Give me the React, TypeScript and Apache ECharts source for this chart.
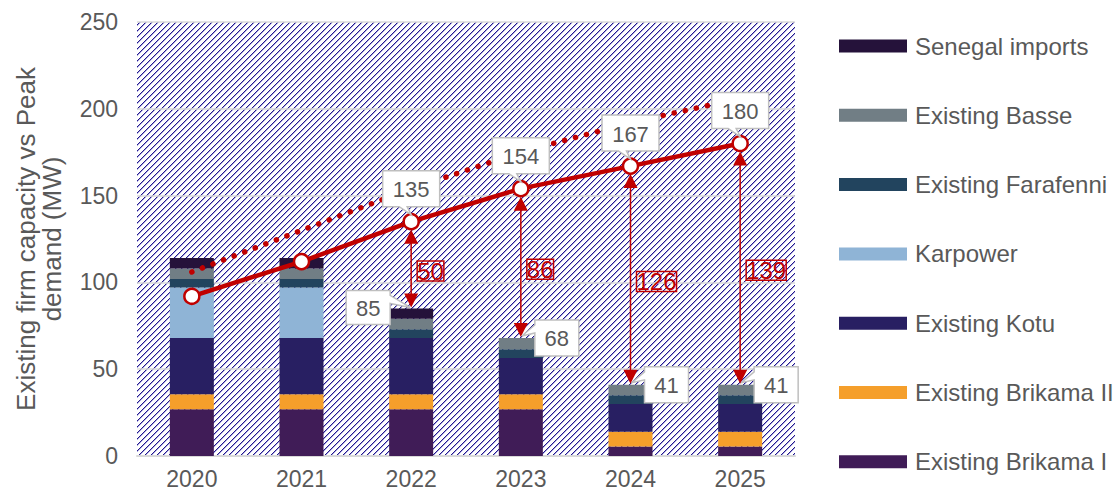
import React, { useEffect, useRef } from 'react';
import * as echarts from 'echarts';

const years = ['2020', '2021', '2022', '2023', '2024', '2025'];
const brikamaI = [27, 27, 27, 27, 5.5, 5.5];
const brikamaII = [8.5, 8.5, 8.5, 8.5, 8.5, 8.5];
const kotu = [32.5, 32.5, 32.5, 21, 16, 16];
const karpower = [29, 29, 0, 0, 0, 0];
const farafenni = [5, 5, 5, 5, 5, 5];
const basse = [6, 6, 6, 6.5, 6, 6];
const senegalImports = [6, 6, 6, 0, 0, 0];
const peakDemand = [92, 112, 135, 154, 167, 180];
const highDemand = [106, 130, 154, 175, 192, 206];
const annotatedYears = ['2022', '2023', '2024', '2025'];
const yTicks = [0, 50, 100, 150, 200, 250];

const FONT = 'Liberation Sans, Arial, sans-serif';
const GREY = '#595959';
const RED = '#c00000';

const barSeriesDefs = [
  { name: 'Existing Brikama I', data: brikamaI, color: '#401c57' },
  { name: 'Existing Brikama II', data: brikamaII, color: '#f59f2b' },
  { name: 'Existing Kotu', data: kotu, color: '#281f62' },
  { name: 'Karpower', data: karpower, color: '#8fb4d6' },
  { name: 'Existing Farafenni', data: farafenni, color: '#22445e' },
  { name: 'Existing Basse', data: basse, color: '#717e85' },
  { name: 'Senegal imports', data: senegalImports, color: '#25123a' },
];

function makeHatch(): string {
  const s = 6;
  const c = document.createElement('canvas');
  c.width = s;
  c.height = s;
  const ctx = c.getContext('2d')!;
  ctx.fillStyle = '#ffffff';
  ctx.fillRect(0, 0, s, s);
  for (let x = 0; x < s; x++) {
    ctx.fillStyle = '#22188c';
    ctx.fillRect(x, s - 1 - x, 1, 1);
    ctx.fillStyle = '#aaa6e0';
    ctx.fillRect(x, (s - x) % s, 1, 1);
  }
  return c.toDataURL();
}

export default function App() {
  const ref = useRef<HTMLDivElement>(null);

  useEffect(() => {
    document.body.style.margin = '0';
    const chart = echarts.init(ref.current!, null, { renderer: 'svg' });
    const totals = years.map((_, i) =>
      barSeriesDefs.reduce((acc, s) => acc + (s.data[i] || 0), 0)
    );
    const annotIdx = annotatedYears.map((y) => years.indexOf(y));
    const gapData = annotIdx.map((i) => [years[i], totals[i], peakDemand[i]]);
    const demandLabelData = annotIdx.map((i) => [years[i], peakDemand[i]]);
    const capLabelData = annotIdx.map((i) => [years[i], totals[i]]);

    const hatch = makeHatch();

    const series: any[] = barSeriesDefs.map((s) => ({
      name: s.name,
      type: 'bar',
      stack: 'cap',
      barWidth: 44,
      data: s.data,
      itemStyle: { color: s.color },
      z: 2,
    }));

    series.push({
      name: 'High demand',
      type: 'line',
      data: highDemand,
      symbol: 'none',
      z: 3,
      lineStyle: { color: RED, width: 5.5, type: [0.1, 11.2], cap: 'round' },
    });

    series.push({
      name: 'Gap',
      type: 'custom',
      z: 3,
      data: gapData,
      renderItem: (params: any, api: any) => {
        const xi = api.value(0);
        const tot = api.value(1);
        const dem = api.value(2);
        const pT = api.coord([xi, tot]);
        const pD = api.coord([xi, dem]);
        const x = pT[0];
        const yBot = pT[1] - 1;
        const yTop = pD[1] + 8;
        const head = 14;
        const hw = 7;
        const mid = (pT[1] + pD[1]) / 2 + 6;
        return {
          type: 'group',
          children: [
            {
              type: 'line',
              shape: { x1: x, y1: yTop + head - 2, x2: x, y2: yBot - head + 2 },
              style: { stroke: RED, lineWidth: 1.5 },
            },
            {
              type: 'polygon',
              shape: { points: [[x, yTop], [x - hw, yTop + head], [x + hw, yTop + head]] },
              style: { fill: RED },
            },
            {
              type: 'polygon',
              shape: { points: [[x, yBot], [x - hw, yBot - head], [x + hw, yBot - head]] },
              style: { fill: RED },
            },
            {
              type: 'text',
              x: x + 6,
              y: mid,
              style: {
                text: String(Math.round(dem - tot)),
                fill: RED,
                font: `24px ${FONT}`,
                align: 'left',
                verticalAlign: 'middle',
                borderColor: RED,
                borderWidth: 1.5,
                padding: [-1, 0, -1, 0],
                lineHeight: 22,
              },
            },
          ],
        };
      },
    });

    series.push({
      name: 'Peak demand',
      type: 'line',
      data: peakDemand,
      z: 4,
      symbol: 'circle',
      symbolSize: 15,
      lineStyle: { color: RED, width: 4.5 },
      itemStyle: { color: '#ffffff', borderColor: RED, borderWidth: 2.5 },
    });

    const calloutText = (cx: number, cy: number, v: number) => ({
      type: 'text',
      x: cx,
      y: cy,
      style: {
        text: String(Math.round(v)),
        fill: GREY,
        font: `22px ${FONT}`,
        align: 'center',
        verticalAlign: 'middle',
      },
    });
    const boxStyle = { fill: '#ffffff', stroke: '#bfbfbf', lineWidth: 1.5 };

    series.push({
      name: 'Demand labels',
      type: 'custom',
      z: 6,
      data: demandLabelData,
      renderItem: (params: any, api: any) => {
        const v = api.value(1);
        const [px, py] = api.coord([api.value(0), v]);
        const W = 57;
        const H = 36;
        const B = py - 15;
        const T = B - H;
        const L = px - W / 2;
        const R = px + W / 2;
        return {
          type: 'group',
          children: [
            {
              type: 'polygon',
              shape: { points: [[L, T], [R, T], [R, B], [px - 4, B], [px, py - 7], [px - 12, B], [L, B]] },
              style: boxStyle,
            },
            calloutText(px, (T + B) / 2 + 1, v),
          ],
        };
      },
    });

    series.push({
      name: 'Capacity labels',
      type: 'custom',
      z: 6,
      data: capLabelData,
      renderItem: (params: any, api: any) => {
        const v = api.value(1);
        const xi = api.value(0);
        const [px, py] = api.coord([xi, v]);
        const W = 44;
        if (params.dataIndex === 0) {
          const H = 34;
          const R = px - 21;
          const L = R - W;
          const T = py - 18;
          const B = T + H;
          return {
            type: 'group',
            children: [
              {
                type: 'polygon',
                shape: { points: [[L, T], [R, T], [R, T + 5], [px - 1, py - 1], [R, T + 13], [R, B], [L, B]] },
                style: boxStyle,
              },
              calloutText((L + R) / 2, (T + B) / 2 + 1, v),
            ],
          };
        }
        const H = 36;
        const L = px + 14;
        const R = L + W;
        const T = py - 18;
        const B = T + H;
        return {
          type: 'group',
          children: [
            {
              type: 'polygon',
              shape: { points: [[L, T], [R, T], [R, B], [L, B], [L, T + 13], [px + 1, py - 2], [L, T + 5]] },
              style: boxStyle,
            },
            calloutText((L + R) / 2, (T + B) / 2 + 1, v),
          ],
        };
      },
    });

    chart.setOption({
      animation: false,
      textStyle: { fontFamily: FONT },
      grid: {
        left: 137,
        right: 318,
        top: 22,
        bottom: 38,
        show: true,
        borderWidth: 0,
        backgroundColor: { image: hatch, repeat: 'repeat', imageWidth: 6, imageHeight: 6 } as any,
      },
      legend: {
        orient: 'vertical',
        left: 839,
        top: 34,
        padding: 0,
        itemWidth: 68,
        itemHeight: 13,
        itemGap: 45.3,
        icon: 'rect',
        selectedMode: false,
        textStyle: { fontSize: 24, color: GREY, fontFamily: FONT, lineHeight: 24, padding: [0, 0, 0, 3] },
        data: [
          'Senegal imports',
          'Existing Basse',
          'Existing Farafenni',
          'Karpower',
          'Existing Kotu',
          'Existing Brikama II',
          'Existing Brikama I',
        ],
      },
      xAxis: {
        type: 'category',
        data: years,
        axisTick: { show: false },
        axisLine: { lineStyle: { color: '#d9d9d9', width: 2 } },
        axisLabel: { fontSize: 23, color: GREY, margin: 11 },
      },
      yAxis: {
        type: 'value',
        min: yTicks[0],
        max: yTicks[yTicks.length - 1],
        interval: yTicks[1] - yTicks[0],
        name: 'Existing firm capacity vs Peak\ndemand (MW)',
        nameLocation: 'middle',
        nameGap: 72,
        nameTextStyle: { fontSize: 26, color: GREY, lineHeight: 26 },
        axisLine: { show: false },
        axisTick: { show: false },
        axisLabel: { fontSize: 23, color: GREY, margin: 19 },
        splitLine: { lineStyle: { color: '#d9d9d9', width: 1.5 } },
      },
      series,
    });
    return () => chart.dispose();
  }, []);

  return <div ref={ref} style={{ width: 1113, height: 494 }} />;
}
